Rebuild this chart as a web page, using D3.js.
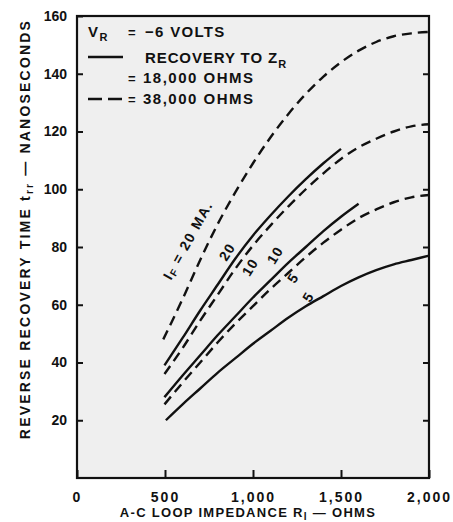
<!DOCTYPE html>
<html><head><meta charset="utf-8">
<script src="https://cdn.jsdelivr.net/npm/d3@7"></script>
<style>body{margin:0;background:#fff}svg text{font-family:"Liberation Sans",Arial,sans-serif;font-weight:bold;fill:#111}</style>
</head><body><svg id="c" width="453" height="522"></svg>
<script>
// ---- data ----
const xTicks=[0,500,1000,1500,2000];
const yTicks=[20,40,60,80,100,120,140,160];
const dashed20X=[490,600,700,800,900,1000,1100,1200,1300,1400,1500,1600,1700,1800,1900,2000];
const dashed20Y=[48,62,75.5,88,99,109,118,126,133,139,144,148,151,153,154,154.5];
const solid20X=[497,600,700,800,900,1000,1100,1200,1300,1400,1500];
const solid20Y=[39,48.5,58,67,76,84,91,97.5,103.5,109,114];
const dashed10X=[497,600,700,800,900,1000,1100,1200,1300,1400,1500,1600,1700,1800,1900,2000];
const dashed10Y=[36,45,54.5,63.5,72.5,80.5,87.5,94,100,105.5,110.5,114.5,117.5,120,121.8,122.5];
const solid10X=[497,600,700,800,900,1000,1100,1200,1300,1400,1500,1600];
const solid10Y=[28,35.5,42.5,49.5,56,62.5,68.5,74.5,80,85.5,90.5,95];
const dashed5X=[497,600,700,800,900,1000,1100,1200,1300,1400,1500,1600,1700,1800,1900,2000];
const dashed5Y=[25.5,33,40,47,53.5,59.5,65.5,71,76.5,81.5,86,90,93,95.5,97.2,98];
const solid5X=[505,600,700,800,900,1000,1100,1200,1300,1400,1500,1600,1700,1800,1900,2000];
const solid5Y=[20,25.5,31,36.5,41.5,46.5,51,55.5,59.5,63,66.5,69.5,72,74,75.5,77];
const curveLabelText=["20","10","10","5","5"];
const curveLabelX=[852,983,1125,1227,1313];
const curveLabelY=[78.3,73,77.2,69.3,62.7];
const ifLabelX=630, ifLabelY=82.4;

// ---- chart ----
const svg=d3.select("#c");
const x=d3.scaleLinear().domain([0,2000]).range([77,429]);
const y=d3.scaleLinear().domain([0,160]).range([478,16]);

svg.append("rect").attr("x",x(0)).attr("y",y(160))
  .attr("width",x(2000)-x(0)).attr("height",y(0)-y(160)).attr("fill","#efefef");

const series=[
  {xs:dashed20X,ys:dashed20Y,dash:true},
  {xs:solid20X,ys:solid20Y,dash:false},
  {xs:dashed10X,ys:dashed10Y,dash:true},
  {xs:solid10X,ys:solid10Y,dash:false},
  {xs:dashed5X,ys:dashed5Y,dash:true},
  {xs:solid5X,ys:solid5Y,dash:false}
];
const line=d3.line().x(d=>x(d[0])).y(d=>y(d[1])).curve(d3.curveMonotoneX);
svg.append("g").selectAll("path").data(series).join("path")
  .attr("d",s=>line(s.xs.map((v,i)=>[v,s.ys[i]])))
  .attr("fill","none").attr("stroke","#111").attr("stroke-width",2.4)
  .attr("stroke-dasharray",s=>s.dash?"10,6":null);

// axes
const fmt=d3.format(",");
const gl=svg.append("g").attr("transform",`translate(${x(0)},0)`)
  .call(d3.axisLeft(y).tickValues(yTicks).tickSize(-6).tickPadding(10));
const gr=svg.append("g").attr("transform",`translate(${x(2000)},0)`)
  .call(d3.axisRight(y).tickValues(yTicks.slice(0,-1)).tickSize(-6).tickFormat(""));
const gb=svg.append("g").attr("transform",`translate(0,${y(0)})`)
  .call(d3.axisBottom(x).tickValues(xTicks).tickSize(-8).tickPadding(14).tickFormat(fmt));
[gl,gr,gb].forEach(g=>{g.select(".domain").remove();g.selectAll("line").attr("stroke","#111").attr("stroke-width",2);});
gl.selectAll("text").attr("font-size",14).style("font-family","Liberation Sans").style("font-weight","bold").attr("fill","#111");
gb.selectAll("text").attr("font-size",14).attr("letter-spacing",2).style("font-family","Liberation Sans").style("font-weight","bold").attr("fill","#111");

svg.append("rect").attr("x",x(0)).attr("y",y(160))
  .attr("width",x(2000)-x(0)).attr("height",y(0)-y(160))
  .attr("fill","none").attr("stroke","#111").attr("stroke-width",2.2);

// axis titles
const xt=svg.append("text").attr("x",248).attr("y",517).attr("text-anchor","middle")
  .attr("font-size",13).attr("letter-spacing",1.3);
xt.append("tspan").text("A-C LOOP IMPEDANCE R");
xt.append("tspan").attr("font-size",10).attr("dy",3).text("l");
xt.append("tspan").attr("dy",-3).text(" — OHMS");

const yt=svg.append("text").attr("transform","translate(30,229) rotate(-90)").attr("text-anchor","middle")
  .attr("font-size",14).attr("letter-spacing",2.2);
yt.append("tspan").text("REVERSE RECOVERY TIME t");
yt.append("tspan").attr("font-size",10).attr("dy",3).text("rr");
yt.append("tspan").attr("dy",-3).text(" — NANOSECONDS");

// legend
const lg=svg.append("g");
const l1=lg.append("text").attr("x",88).attr("y",37).attr("font-size",15).attr("letter-spacing",1.5);
l1.append("tspan").text("V");
l1.append("tspan").attr("font-size",11).attr("dy",4).text("R");
lg.append("text").attr("x",128).attr("y",37).attr("font-size",13).text("=");
lg.append("text").attr("x",145).attr("y",37).attr("font-size",15).attr("letter-spacing",1.3).text("−6 VOLTS");
lg.append("line").attr("x1",88).attr("x2",123).attr("y1",57).attr("y2",57).attr("stroke","#111").attr("stroke-width",2.5);
const l2=lg.append("text").attr("x",145).attr("y",63).attr("font-size",15).attr("letter-spacing",0.9);
l2.append("tspan").text("RECOVERY TO Z");
l2.append("tspan").attr("font-size",11).attr("dy",5).text("R");
lg.append("text").attr("x",128).attr("y",83).attr("font-size",13).text("=");
lg.append("text").attr("x",143).attr("y",83).attr("font-size",15).attr("letter-spacing",1.5).text("18,000 OHMS");
lg.append("line").attr("x1",88).attr("x2",125).attr("y1",99).attr("y2",99).attr("stroke","#111").attr("stroke-width",2.5).attr("stroke-dasharray","14,6");
lg.append("text").attr("x",128).attr("y",104).attr("font-size",13).text("=");
lg.append("text").attr("x",143).attr("y",104).attr("font-size",15).attr("letter-spacing",1.5).text("38,000 OHMS");

// curve labels
svg.append("g").selectAll("text").data(curveLabelText).join("text")
  .attr("transform",(d,i)=>`translate(${x(curveLabelX[i])},${y(curveLabelY[i])}) rotate(-58)`)
  .attr("text-anchor","middle").attr("dominant-baseline","central")
  .attr("font-size",14).attr("letter-spacing",1).text(d=>d);
const il=svg.append("text").attr("transform",`translate(${x(ifLabelX)},${y(ifLabelY)}) rotate(-61)`)
  .attr("text-anchor","middle").attr("dominant-baseline","central").attr("font-size",14).attr("letter-spacing",1.5);
il.append("tspan").text("I");
il.append("tspan").attr("font-size",10).attr("dy",3).text("F");
il.append("tspan").attr("dy",-3).text(" = 20 MA.");
</script></body></html>
